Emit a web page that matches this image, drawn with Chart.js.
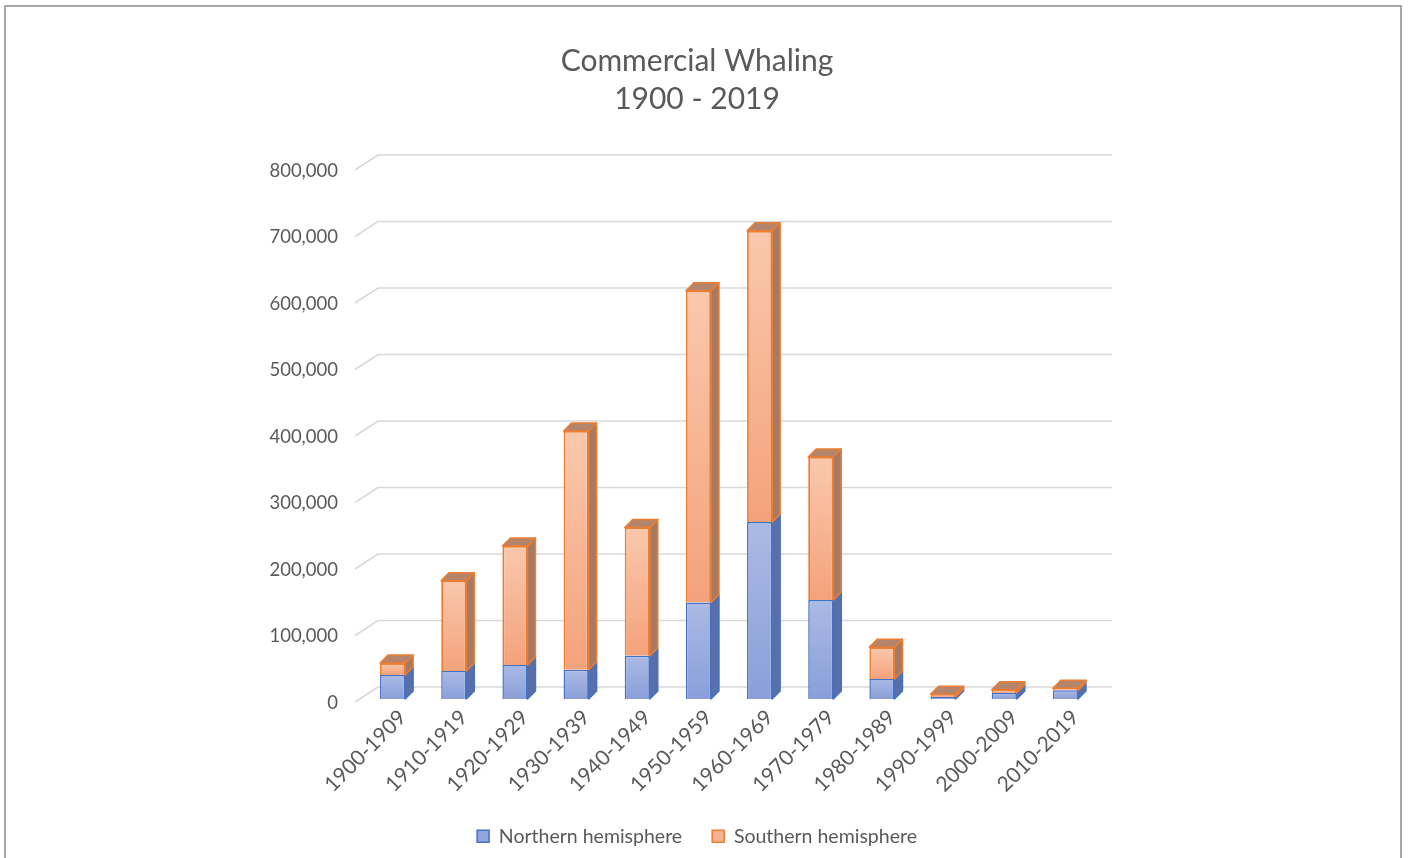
<!DOCTYPE html>
<html>
<head>
<meta charset="utf-8">
<title>Commercial Whaling 1900 - 2019</title>
<script src="https://cdn.jsdelivr.net/npm/chart.js@4.4.0/dist/chart.umd.min.js"></script>
<style>
  html, body { margin: 0; padding: 0; background: #fff; }
  #wrap { width: 1410px; height: 858px; }
</style>
</head>
<body>
<div id="wrap"><canvas id="whalingChart" width="1410" height="858"></canvas></div>
<script>
// Data (whales caught per decade)
var decades = ['1900-1909', '1910-1919', '1920-1929', '1930-1939', '1940-1949', '1950-1959',
               '1960-1969', '1970-1979', '1980-1989', '1990-1999', '2000-2009', '2010-2019'];
var northern = [36000, 42000, 51000, 44000, 65000, 145000, 266000, 149000, 30000, 3000, 9000, 13000];
var southern = [18000, 136000, 179000, 359000, 193000, 469000, 438000, 215000, 48000, 4000, 5000, 3000];
var seriesNames = ['Northern hemisphere', 'Southern hemisphere'];
var titleLines = ['Commercial Whaling', '1900 - 2019'];
var yMax = 800000;
var yStep = 100000;

var textColor = '#595959';
var DX = 8, DY = 8;          // depth of the bars
var WALL_DX = 16, WALL_DY = 12;

// front face gradient for one stacked segment
function segmentGradient(ctx, light, dark) {
    if (ctx.type !== 'data') return dark;
    var chart = ctx.chart;
    var y = chart.scales.y;
    var i = ctx.dataIndex;
    var low = ctx.datasetIndex === 0 ? 0 : northern[i];
    var high = ctx.datasetIndex === 0 ? northern[i] : northern[i] + southern[i];
    var top = y.getPixelForValue(high);
    var bottom = y.getPixelForValue(low);
    if (!isFinite(top) || !isFinite(bottom) || top === bottom) return dark;
    var g = chart.ctx.createLinearGradient(0, top, 0, bottom);
    g.addColorStop(0, light);
    g.addColorStop(1, dark);
    return g;
}

// outer frame of the picture
var framePlugin = {
    id: 'frame',
    beforeDraw: function(chart) {
        var ctx = chart.ctx;
        ctx.save();
        ctx.strokeStyle = '#8c8c8c';
        ctx.lineWidth = 1.5;
        ctx.beginPath();
        ctx.moveTo(5, 870);
        ctx.lineTo(5, 6);
        ctx.lineTo(1401, 6);
        ctx.lineTo(1401, 870);
        ctx.stroke();
        ctx.restore();
    }
};

// back wall gridlines with the little floor diagonal
var wallPlugin = {
    id: 'wall',
    beforeDatasetsDraw: function(chart) {
        var ctx = chart.ctx;
        var area = chart.chartArea;
        var y = chart.scales.y;
        ctx.save();
        ctx.strokeStyle = '#d9d9d9';
        ctx.lineWidth = 1.6;
        y.ticks.forEach(function(t) {
            var py = y.getPixelForValue(t.value);
            ctx.beginPath();
            ctx.moveTo(area.left - 7, py + 3);
            ctx.lineTo(area.left + WALL_DX, py - WALL_DY);
            ctx.lineTo(area.right + WALL_DX, py - WALL_DY);
            ctx.stroke();
        });
        ctx.restore();
    }
};

// side and top faces of the columns
var sideColors = ['#5a6ea8', '#a97a62'];
var topColors = ['#6f84bf', '#b5856b'];
var depthPlugin = {
    id: 'depth',
    afterDatasetsDraw: function(chart) {
        var ctx = chart.ctx;
        var last = chart.data.datasets.length - 1;
        chart.data.datasets.forEach(function(ds, i) {
            var meta = chart.getDatasetMeta(i);
            meta.data.forEach(function(bar) {
                var p = bar.getProps(['x', 'y', 'base', 'width'], true);
                var left = p.x - p.width / 2;
                var right = p.x + p.width / 2;
                var top = Math.min(p.y, p.base);
                var bottom = Math.max(p.y, p.base);
                ctx.save();
                ctx.lineJoin = 'round';
                ctx.lineWidth = 1.5;
                ctx.strokeStyle = ds.borderColor;
                ctx.fillStyle = sideColors[i];
                ctx.beginPath();
                ctx.moveTo(right, bottom);
                ctx.lineTo(right + DX, bottom - DY);
                ctx.lineTo(right + DX, top - DY);
                ctx.lineTo(right, top);
                ctx.closePath();
                ctx.fill();
                ctx.stroke();
                if (i === last) {
                    ctx.fillStyle = topColors[i];
                    ctx.beginPath();
                    ctx.moveTo(left, top);
                    ctx.lineTo(left + DX, top - DY);
                    ctx.lineTo(right + DX, top - DY);
                    ctx.lineTo(right, top);
                    ctx.closePath();
                    ctx.fill();
                    ctx.stroke();
                }
                ctx.restore();
            });
        });
    }
};

var legendFill = ['#8fa5dc', '#f5b295'];

var ctxWhaling = document.getElementById('whalingChart').getContext('2d');
var whalingChart = new Chart(ctxWhaling, {
    type: 'bar',
    data: {
        labels: decades,
        datasets: [{
            label: seriesNames[0],
            data: northern,
            backgroundColor: function(c) { return segmentGradient(c, '#abbae5', '#8a9fd9'); },
            borderColor: '#4472c4',
            borderWidth: 1.5,
            categoryPercentage: 0.41,
            barPercentage: 1
        }, {
            label: seriesNames[1],
            data: southern,
            backgroundColor: function(c) { return segmentGradient(c, '#f9c8ad', '#f4a27b'); },
            borderColor: '#ed7d31',
            borderWidth: 1.8,
            categoryPercentage: 0.41,
            barPercentage: 1
        }]
    },
    options: {
        responsive: false,
        animation: false,
        layout: {
            padding: { left: 0, right: 16, top: 0, bottom: 2 }
        },
        plugins: {
            title: {
                display: true,
                text: titleLines,
                color: textColor,
                font: { family: 'Lato', size: 30, weight: 'normal', lineHeight: 1.25 },
                padding: { top: 43, bottom: 49 }
            },
            legend: {
                position: 'bottom',
                labels: {
                    color: textColor,
                    font: { family: 'Lato', size: 19.5 },
                    boxWidth: 12,
                    boxHeight: 12,
                    padding: 30,
                    generateLabels: function(chart) {
                        var items = Chart.defaults.plugins.legend.labels.generateLabels(chart);
                        items.forEach(function(it, k) { it.fillStyle = legendFill[k]; it.lineWidth = 1.5; });
                        return items;
                    }
                }
            },
            tooltip: { enabled: false }
        },
        scales: {
            x: {
                stacked: true,
                grid: { display: false, drawTicks: false },
                border: { display: false },
                ticks: {
                    color: textColor,
                    font: { family: 'Lato', size: 21 },
                    minRotation: 45,
                    maxRotation: 45,
                    padding: 6,
                    labelOffset: 10
                },
                afterFit: function(s) { s.height = 97.5; }
            },
            y: {
                stacked: true,
                min: 0,
                max: yMax,
                grid: { display: false, drawTicks: false },
                border: { display: false },
                ticks: {
                    stepSize: yStep,
                    color: textColor,
                    font: { family: 'Lato', size: 18.5 },
                    padding: 24,
                    labelOffset: 4,
                    callback: function(v) { return v.toLocaleString('en-US'); }
                },
                afterFit: function(s) { s.width = 362; }
            },
            yRight: {
                position: 'right',
                grid: { display: false, drawTicks: false },
                border: { display: false },
                ticks: { display: false },
                afterFit: function(s) { s.width = 298; }
            }
        }
    },
    plugins: [framePlugin, wallPlugin, depthPlugin]
});
</script>
</body>
</html>
